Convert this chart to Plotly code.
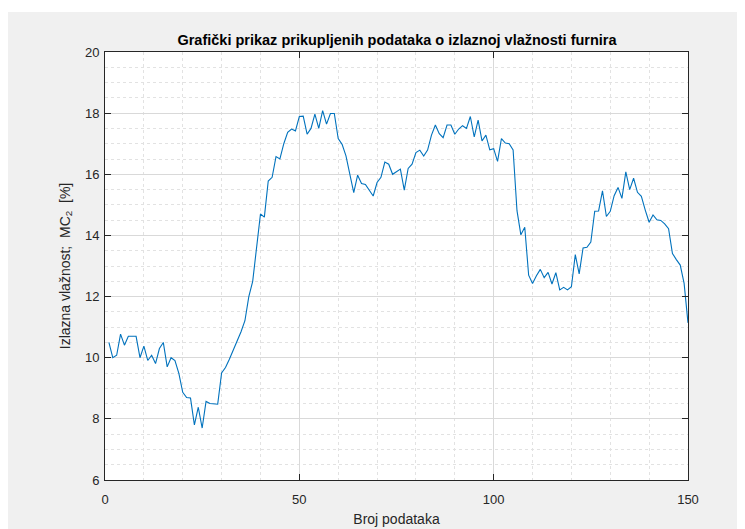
import plotly.graph_objects as go

broj = list(range(1, 151))
vlaznost = [
    10.5, 10.0, 10.08, 10.77, 10.41, 10.7, 10.7, 10.7, 10.0, 10.38,
    9.91, 10.08, 9.81, 10.3, 10.5, 9.7, 10.0, 9.91, 9.49, 8.87,
    8.7, 8.68, 7.8, 8.38, 7.7, 8.57, 8.5, 8.48, 8.48, 9.5,
    9.68, 9.95, 10.24, 10.55, 10.85, 11.21, 12.0, 12.5, 13.6, 14.7,
    14.6, 15.78, 15.9, 16.58, 16.5, 17.0, 17.37, 17.48, 17.42, 17.89,
    17.9, 17.31, 17.5, 17.97, 17.5, 18.08, 17.64, 17.99, 17.99, 17.17,
    16.98, 16.6, 16.0, 15.4, 15.97, 15.7, 15.67, 15.49, 15.29, 15.73,
    15.9, 16.4, 16.33, 16.0, 16.08, 16.17, 15.48, 16.19, 16.33, 16.71,
    16.79, 16.6, 16.79, 17.28, 17.61, 17.33, 17.2, 17.61, 17.61, 17.31,
    17.48, 17.59, 17.5, 17.89, 17.22, 17.77, 17.09, 17.28, 16.8, 16.84,
    16.42, 17.17, 17.02, 17.0, 16.8, 14.81, 14.02, 14.27, 12.7, 12.43,
    12.68, 12.89, 12.62, 12.79, 12.41, 12.78, 12.22, 12.3, 12.22, 12.32,
    13.37, 12.74, 13.59, 13.61, 13.78, 14.79, 14.8, 15.46, 14.62, 14.79,
    15.3, 15.57, 15.21, 16.08, 15.5, 15.87, 15.41, 15.28, 14.83, 14.43,
    14.67, 14.51, 14.49, 14.38, 14.22, 13.41, 13.21, 13.03, 12.43, 11.14,
]

title_text = "Grafički prikaz prikupljenih podataka o izlaznoj vlažnosti furnira"
x_title = "Broj podataka"
y_title = "Izlazna vlažnost;  MC<sub>2</sub>  [%]"

FONT = "Liberation Sans, Arial, sans-serif"
AX = "#262626"
GRID = "#d9d9d9"
MINOR = "#e2e2e2"

fig = go.Figure()
fig.add_trace(go.Scatter(x=broj, y=vlaznost, mode="lines",
                         line=dict(color="#0072BD", width=1.1),
                         showlegend=False, hoverinfo="skip"))

# page is offset by the 8px body margin
W, H = 737, 521
L, R, T, B = 97, 57, 44, 49
pw, ph = W - L - R, H - T - B

def px_x(p):
    return (p - L) / pw

def px_y(p):
    return (H - B - p) / ph

fig.update_layout(
    width=W, height=H,
    margin=dict(l=L, r=R, t=T, b=B),
    paper_bgcolor="#f0f0f0",
    plot_bgcolor="white",
    font=dict(family=FONT, color=AX, size=13),
    title=dict(text="<b>" + title_text + "</b>", x=px_x(389), xref="paper",
               xanchor="center", y=1 - 32 / H, yref="container", yanchor="middle",
               font=dict(family=FONT, size=14.5, color="#000000")),
    shapes=[
        dict(type="rect", xref="paper", yref="paper", x0=px_x(0), x1=px_x(W),
             y0=px_y(4), y1=px_y(0), fillcolor="white", line=dict(width=0), layer="below"),
    ],
)

fig.update_xaxes(
    range=[0, 150], tickmode="linear", tick0=0, dtick=50,
    showline=True, linecolor=AX, linewidth=1, mirror="ticks",
    ticks="inside", ticklen=6, tickcolor=AX,
    showgrid=True, gridcolor=GRID, gridwidth=1,
    minor=dict(dtick=10, tick0=0, showgrid=True, gridcolor=MINOR, griddash="dot", ticks=""),
    zeroline=False, ticklabelstandoff=7, automargin=False,
    tickfont=dict(size=13, color=AX),
    title=dict(text=x_title, font=dict(size=14, color=AX), standoff=8),
)
fig.update_yaxes(
    range=[6, 20], tickmode="linear", tick0=6, dtick=2,
    showline=True, linecolor=AX, linewidth=1, mirror="ticks",
    ticks="inside", ticklen=6, tickcolor=AX,
    showgrid=True, gridcolor=GRID, gridwidth=1,
    minor=dict(dtick=0.5, tick0=6, showgrid=True, gridcolor=MINOR, griddash="dot", ticks=""),
    zeroline=False, ticklabelstandoff=2, automargin=False,
    tickfont=dict(size=13, color=AX),
    title=dict(text=y_title, font=dict(size=14, color=AX), standoff=11),
)

fig.write_html("out.html")
